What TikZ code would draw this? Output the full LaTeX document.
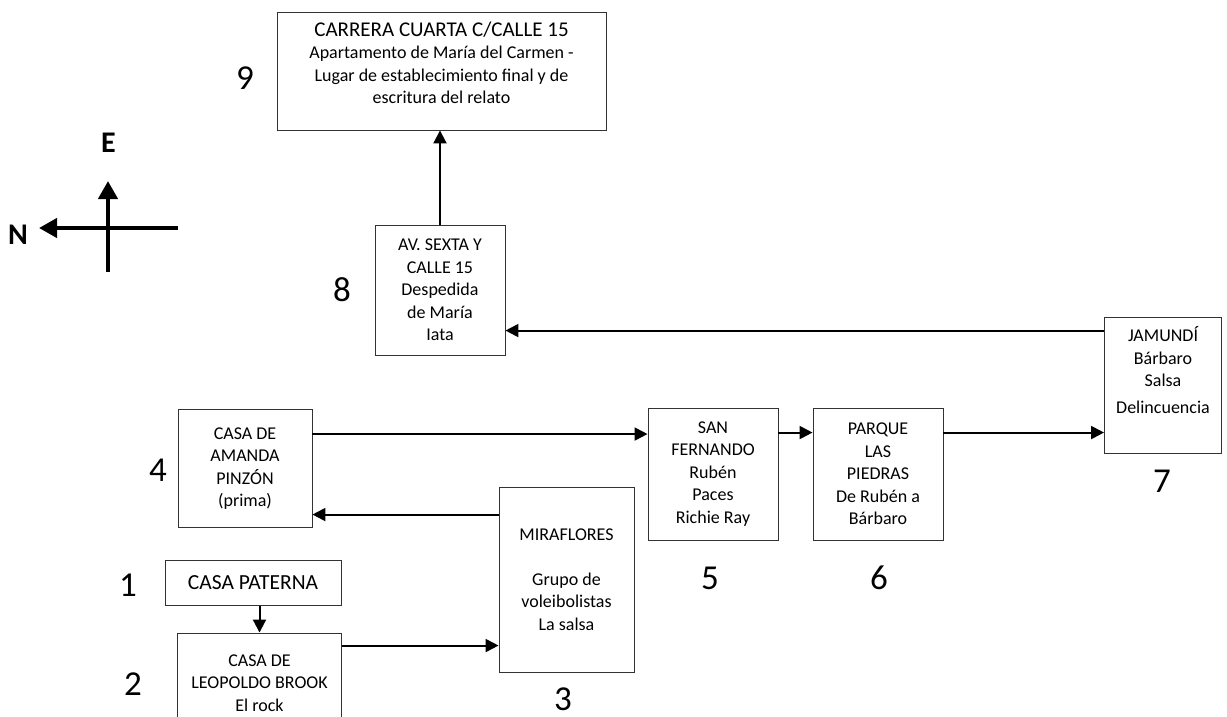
\documentclass[tikz,border=0pt]{standalone}
\usepackage{fontspec}
\setmainfont{Carlito}
\usetikzlibrary{arrows.meta}
\begin{document}
\begin{tikzpicture}[x=1pt,y=-1pt,
  place/.style={draw=black!80, line width=0.9pt, align=center, inner sep=0pt,
    font=\fontsize{18}{22.5}\selectfont},
  big/.style={font=\fontsize{21.5}{23}\selectfont},
  num/.style={font=\fontsize{35}{40}\selectfont, inner sep=0pt},
  card/.style={font=\bfseries\fontsize{30}{32}\selectfont, inner sep=0pt},
  arr/.style={line width=2pt, -{Triangle[length=13pt,width=13pt]}},
  compass/.style={line width=4.2pt, -{Triangle[length=18pt,width=19pt]}}]
\clip (0,0) rectangle (1227,717);

% places visited, in order
\node[place, minimum width=329, minimum height=118] (car) at (441.5,71)
  {{\fontsize{21}{23}\selectfont CARRERA CUARTA C/CALLE 15}\\
   Apartamento de María del Carmen -\\
   Lugar de establecimiento final y de\\
   escritura del relato\rule[-17pt]{0pt}{0pt}};
\node[place, minimum width=130, minimum height=130] (av) at (440,290)
  {AV. SEXTA Y\\CALLE 15\\Despedida\\de María\\Iata};
\node[place, minimum width=117, minimum height=136] (jam) at (1163,385)
  {JAMUNDÍ\\Bárbaro\\Salsa\\[4.5pt]Delincuencia\rule[-30pt]{0pt}{0pt}};
\node[place, minimum width=130, minimum height=132] (parque) at (878,474)
  {PARQUE\\LAS\\PIEDRAS\\De Rubén a\\Bárbaro};
\node[place, minimum width=130, minimum height=132] (sanf) at (713,474)
  {SAN\\FERNANDO\\Rubén\\Paces\\Richie Ray};
\node[place, minimum width=134, minimum height=118] (amanda) at (245,468.5)
  {CASA DE\\AMANDA\\PINZÓN\\(prima)};
\node[place, minimum width=135, minimum height=185] (mira) at (566.5,579.5)
  {MIRAFLORES\\[22.5pt]Grupo de\\voleibolistas\\La salsa};
\node[place, big, minimum width=176, minimum height=45] (pat) at (253,583)
  {CASA PATERNA};
\node[place, minimum width=164, minimum height=100] (leo) at (259.5,683)
  {CASA DE\\LEOPOLDO BROOK\\El rock};

% step numbers
\node[num] (n1) at (128,585) {1};
\node[num] (n2) at (133,684) {2};
\node[num] (n3) at (563,699) {3};
\node[num] (n4) at (158,470) {4};
\node[num] (n5) at (710,578) {5};
\node[num] (n6) at (879,578) {6};
\node[num] (n7) at (1162,481) {7};
\node[num] (n8) at (342,290) {8};
\node[num] (n9) at (245,78) {9};

% route
\draw[arr] (pat.south -| leo.north) -- (leo.north);
\draw[arr] ([yshift=-13pt]leo.north east) coordinate (l1) -- (l1 -| mira.west);
\draw[arr] ([yshift=-28pt]mira.north west) coordinate (m1) -- (m1 -| amanda.east);
\draw[arr] ([yshift=-25pt]amanda.north east) coordinate (a1) -- (a1 -| sanf.west);
\draw[arr] ([yshift=-25pt]sanf.north east) coordinate (s1) -- (s1 -| parque.west);
\draw[arr] ([yshift=-25pt]parque.north east) coordinate (p1) -- (p1 -| jam.west);
\draw[arr] ([yshift=-14pt]jam.north west) coordinate (j1) -- (j1 -| av.east);
\draw[arr] (av.north) -- (av.north |- car.south);

% compass rose
\coordinate (cs) at (108,272);
\coordinate (ctop) at (108,181);
\coordinate (ce) at (178,228);
\coordinate (cw) at (39,228);
\node[card] (east) at (108.5,143) {E};
\node[card] (north) at (18,235) {N};
\draw[compass] (cs) -- (ctop);
\draw[compass] (ce) -- (cw);
\end{tikzpicture}
\end{document}
